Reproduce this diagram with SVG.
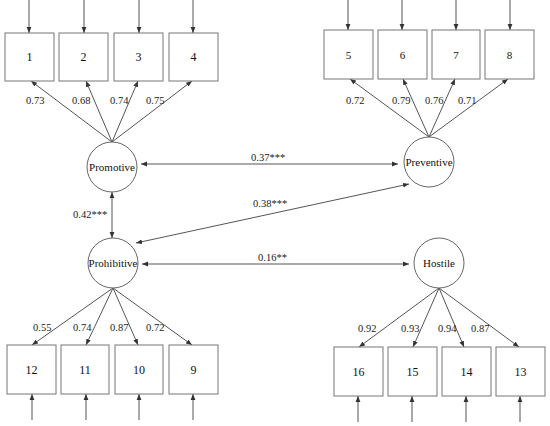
<svg xmlns="http://www.w3.org/2000/svg" width="550" height="426" viewBox="0 0 550 426">
<defs>
<marker id="ah" viewBox="0 0 10 10" refX="10" refY="5" markerWidth="6" markerHeight="6" orient="auto-start-reverse" markerUnits="userSpaceOnUse">
<path d="M0,1 L10,5 L0,9 Z" fill="#333"/>
</marker>
<style>
.box{fill:#fff;stroke:#777;stroke-width:1}
.lat{fill:#fff;stroke:#666;stroke-width:1}
.ln{stroke:#555;stroke-width:1;fill:none}
.t{font-family:"Liberation Serif","Times New Roman",serif;font-size:11px;fill:#111;text-anchor:middle}
.n{font-family:"Liberation Serif","Times New Roman",serif;font-size:12px;fill:#111;text-anchor:middle}
.l{font-family:"Liberation Serif","Times New Roman",serif;font-size:10.5px;fill:#222}
</style>
</defs>
<rect width="550" height="426" fill="#fff"/>
<g id="connectors">
<!-- error arrows top -->
<line class="ln" x1="29" y1="0" x2="29" y2="33" marker-end="url(#ah)"/>
<line class="ln" x1="84" y1="0" x2="84" y2="33" marker-end="url(#ah)"/>
<line class="ln" x1="139" y1="0" x2="139" y2="33" marker-end="url(#ah)"/>
<line class="ln" x1="193" y1="0" x2="193" y2="33" marker-end="url(#ah)"/>
<line class="ln" x1="348" y1="0" x2="348" y2="30" marker-end="url(#ah)"/>
<line class="ln" x1="402" y1="0" x2="402" y2="30" marker-end="url(#ah)"/>
<line class="ln" x1="456" y1="0" x2="456" y2="30" marker-end="url(#ah)"/>
<line class="ln" x1="510" y1="0" x2="510" y2="30" marker-end="url(#ah)"/>
<!-- error arrows bottom -->
<line class="ln" x1="32" y1="420" x2="32" y2="394" marker-end="url(#ah)"/>
<line class="ln" x1="86" y1="420" x2="86" y2="394" marker-end="url(#ah)"/>
<line class="ln" x1="139" y1="420" x2="139" y2="394" marker-end="url(#ah)"/>
<line class="ln" x1="193" y1="420" x2="193" y2="394" marker-end="url(#ah)"/>
<line class="ln" x1="358" y1="422" x2="358" y2="396" marker-end="url(#ah)"/>
<line class="ln" x1="412" y1="422" x2="412" y2="396" marker-end="url(#ah)"/>
<line class="ln" x1="466" y1="422" x2="466" y2="396" marker-end="url(#ah)"/>
<line class="ln" x1="520" y1="422" x2="520" y2="396" marker-end="url(#ah)"/>
<!-- loadings promotive -->
<line class="ln" x1="112" y1="142" x2="31" y2="81" marker-end="url(#ah)"/>
<line class="ln" x1="112" y1="142" x2="86" y2="81" marker-end="url(#ah)"/>
<line class="ln" x1="112" y1="142" x2="138" y2="81" marker-end="url(#ah)"/>
<line class="ln" x1="112" y1="142" x2="192" y2="81" marker-end="url(#ah)"/>
<!-- loadings preventive -->
<line class="ln" x1="429" y1="137" x2="350" y2="79" marker-end="url(#ah)"/>
<line class="ln" x1="429" y1="137" x2="403" y2="79" marker-end="url(#ah)"/>
<line class="ln" x1="429" y1="137" x2="455" y2="79" marker-end="url(#ah)"/>
<line class="ln" x1="429" y1="137" x2="508" y2="79" marker-end="url(#ah)"/>
<!-- loadings prohibitive -->
<line class="ln" x1="113" y1="288" x2="32" y2="345" marker-end="url(#ah)"/>
<line class="ln" x1="113" y1="288" x2="86" y2="345" marker-end="url(#ah)"/>
<line class="ln" x1="113" y1="288" x2="138" y2="345" marker-end="url(#ah)"/>
<line class="ln" x1="113" y1="288" x2="192" y2="345" marker-end="url(#ah)"/>
<!-- loadings hostile -->
<line class="ln" x1="439" y1="288" x2="359" y2="347" marker-end="url(#ah)"/>
<line class="ln" x1="439" y1="288" x2="413" y2="347" marker-end="url(#ah)"/>
<line class="ln" x1="439" y1="288" x2="464" y2="347" marker-end="url(#ah)"/>
<line class="ln" x1="439" y1="288" x2="519" y2="347" marker-end="url(#ah)"/>
<!-- covariances -->
<line class="ln" x1="141" y1="164" x2="398" y2="164" marker-start="url(#ah)" marker-end="url(#ah)"/>
<line class="ln" x1="112" y1="192" x2="112" y2="238" marker-start="url(#ah)" marker-end="url(#ah)"/>
<line class="ln" x1="136" y1="243" x2="409" y2="184" marker-start="url(#ah)" marker-end="url(#ah)"/>
<line class="ln" x1="142" y1="264" x2="409" y2="264" marker-start="url(#ah)" marker-end="url(#ah)"/>
</g>
<g id="labels">
<text class="l" x="26" y="104">0.73</text>
<text class="l" x="72" y="104">0.68</text>
<text class="l" x="110" y="104">0.74</text>
<text class="l" x="146" y="104">0.75</text>
<text class="l" x="346" y="104">0.72</text>
<text class="l" x="392" y="104">0.79</text>
<text class="l" x="425" y="104">0.76</text>
<text class="l" x="458" y="104">0.71</text>
<text class="l" x="33" y="331">0.55</text>
<text class="l" x="73" y="331">0.74</text>
<text class="l" x="110" y="331">0.87</text>
<text class="l" x="146" y="331">0.72</text>
<text class="l" x="358" y="332">0.92</text>
<text class="l" x="401" y="332">0.93</text>
<text class="l" x="438" y="332">0.94</text>
<text class="l" x="471" y="332">0.87</text>
<text class="l" x="73" y="218">0.42***</text>
<text class="l" x="251" y="161">0.37***</text>
<text class="l" x="253" y="207">0.38***</text>
<text class="l" x="258" y="261">0.16**</text>
</g>
<g id="n1"><rect class="box" x="5" y="33" width="49" height="48"/><text class="n" x="29.5" y="61">1</text></g>
<g id="n2"><rect class="box" x="59" y="33" width="49" height="48"/><text class="n" x="83.5" y="61">2</text></g>
<g id="n3"><rect class="box" x="114" y="33" width="49" height="48"/><text class="n" x="138.5" y="61">3</text></g>
<g id="n4"><rect class="box" x="169" y="33" width="49" height="48"/><text class="n" x="193.5" y="61">4</text></g>
<g id="n5"><rect class="box" x="324" y="30" width="49" height="49"/><text class="t" x="348.5" y="59">5</text></g>
<g id="n6"><rect class="box" x="378" y="30" width="49" height="49"/><text class="t" x="402.5" y="59">6</text></g>
<g id="n7"><rect class="box" x="432" y="30" width="48" height="49"/><text class="t" x="456" y="59">7</text></g>
<g id="n8"><rect class="box" x="485" y="30" width="49" height="49"/><text class="t" x="509.5" y="59">8</text></g>
<g id="n12"><rect class="box" x="7" y="345" width="49" height="49"/><text class="n" x="31.5" y="374">12</text></g>
<g id="n11"><rect class="box" x="61" y="345" width="48" height="49"/><text class="n" x="85" y="374">11</text></g>
<g id="n10"><rect class="box" x="115" y="345" width="48" height="49"/><text class="n" x="139" y="374">10</text></g>
<g id="n9"><rect class="box" x="169" y="345" width="49" height="49"/><text class="n" x="193.5" y="374">9</text></g>
<g id="n16"><rect class="box" x="334" y="347" width="49" height="49"/><text class="n" x="358.5" y="376">16</text></g>
<g id="n15"><rect class="box" x="388" y="347" width="49" height="49"/><text class="n" x="412.5" y="376">15</text></g>
<g id="n14"><rect class="box" x="442" y="347" width="49" height="49"/><text class="n" x="466.5" y="376">14</text></g>
<g id="n13"><rect class="box" x="496" y="347" width="49" height="49"/><text class="n" x="520.5" y="376">13</text></g>
<g id="promotive"><circle class="lat" cx="112" cy="167" r="25"/><text class="t" x="112" y="171">Promotive</text></g>
<g id="preventive"><circle class="lat" cx="429" cy="162" r="25"/><text class="t" x="429" y="166">Preventive</text></g>
<g id="prohibitive"><circle class="lat" cx="113" cy="263" r="25"/><text class="t" x="113" y="267">Prohibitive</text></g>
<g id="hostile"><circle class="lat" cx="439" cy="263" r="25"/><text class="t" x="439" y="267">Hostile</text></g>
</svg>
